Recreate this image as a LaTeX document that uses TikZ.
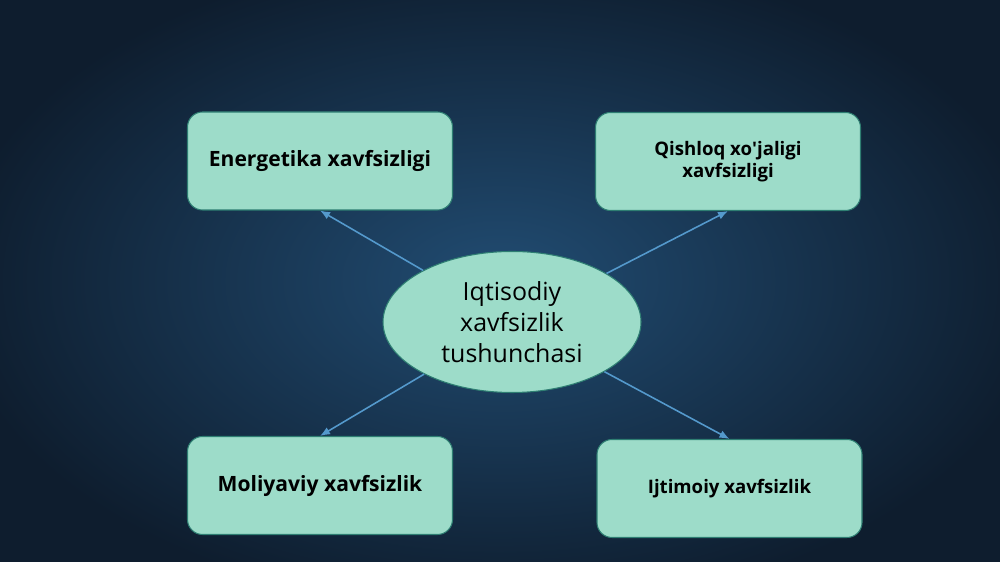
\documentclass[tikz,border=0pt]{standalone}
\usepackage{fontspec}
\setmainfont{Open Sans}
\usetikzlibrary{shapes.geometric,arrows.meta}

\definecolor{bgin}{HTML}{214C72}
\definecolor{bgout}{HTML}{0E1D2E}
\definecolor{mint}{HTML}{9DDCC9}
\definecolor{mintline}{HTML}{2E7E72}
\definecolor{linkblue}{HTML}{5499CC}

\begin{document}
\begin{tikzpicture}[
  box/.style={draw=mintline,line width=0.6pt,fill=mint,rounded corners=0.3cm,
    minimum width=5.3cm,minimum height=1.96cm,align=center,
    font=\fontsize{12}{14.5}\selectfont\bfseries},
  smallbox/.style={box,font=\fontsize{10.6}{12.6}\selectfont\bfseries},
  hub/.style={draw=mintline,line width=0.6pt,fill=mint,ellipse,
    minimum width=5.16cm,minimum height=2.82cm,inner sep=0pt,align=center,
    font=\fontsize{14.2}{17.5}\selectfont},
  link/.style={linkblue,line width=0.9pt,-{Latex[length=2mm,width=1.6mm]}}]

%background
  \useasboundingbox (0,0) rectangle (20,11.24);
  \clip (0,0) rectangle (20,11.24);
  \shade[inner color=bgin,outer color=bgout] (-1,-1) rectangle (21,12.24);

%centre and the four boxes
  \node[hub] (iqt) at (10.24,4.8) {Iqtisodiy\\xavfsizlik\\tushunchasi};
  \node[box] (ener) at (6.4,8.02) {Energetika xavfsizligi};
  \node[smallbox] (qish) at (14.56,8.01) {Qishloq xo\textquotesingle jaligi\\xavfsizligi};
  \node[box] (moli) at (6.4,1.53) {Moliyaviy xavfsizlik};
  \node[smallbox] (ijti) at (14.59,1.47) {Ijtimoiy xavfsizlik};

%arrows out of the centre
  \foreach \t/\a in {ener/south,qish/south,moli/north,ijti/north}
    \draw[link] (iqt) -- (\t.\a);

\end{tikzpicture}
\end{document}
